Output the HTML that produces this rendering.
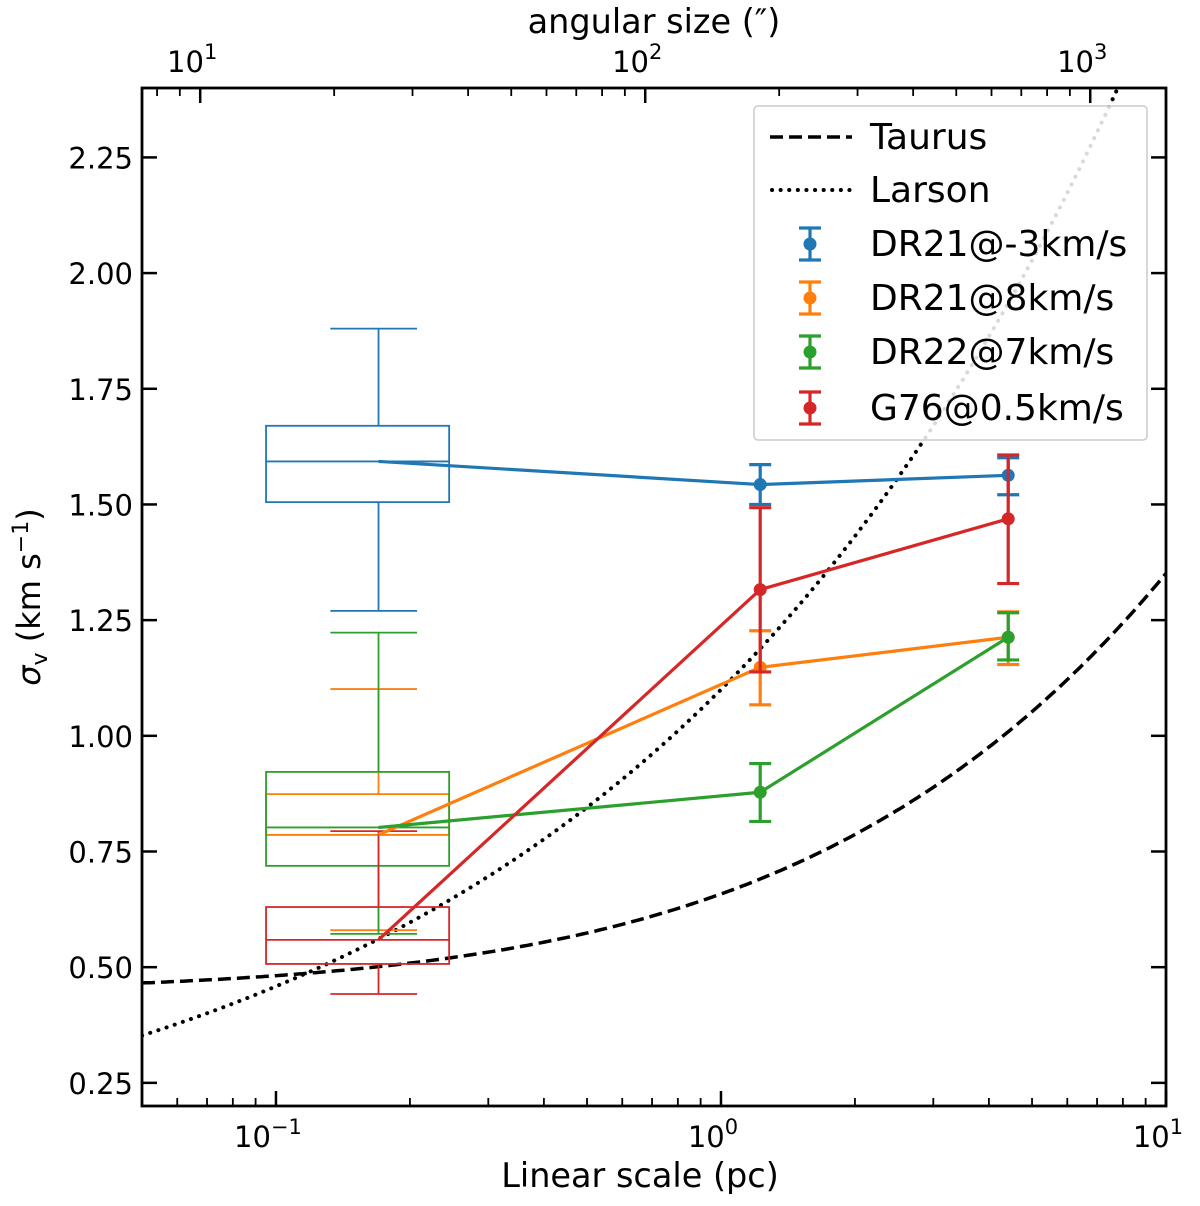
<!DOCTYPE html>
<html><head><meta charset="utf-8"><style>
body{margin:0;background:#fff}
svg text{font-family:"DejaVu Sans","Liberation Sans",sans-serif;fill:#000}
</style></head><body>
<svg id="chart" width="1200" height="1201" xmlns="http://www.w3.org/2000/svg"></svg>
<script>
const xTicks=[0.1,1,10];
const xTickLabels=["10","10","10"];
const xTickExps=["−1","0","1"];
const topTicks=[10,100,1000];
const topTickExps=["1","2","3"];
const yTicks=[0.25,0.5,0.75,1.0,1.25,1.5,1.75,2.0,2.25];
const yTickLabels=["0.25","0.50","0.75","1.00","1.25","1.50","1.75","2.00","2.25"];
const seriesNames=["DR21@-3km/s","DR21@8km/s","DR22@7km/s","G76@0.5km/s"];
const seriesColors=["#1f77b4","#ff7f0e","#2ca02c","#d62728"];
const scales=[0.17,1.225,4.42];
const blueVals=[1.593,1.543,1.563];
const blueLo=[null,1.500,1.521];
const blueHi=[null,1.586,1.601];
const orangeVals=[0.786,1.148,1.213];
const orangeLo=[null,1.067,1.154];
const orangeHi=[null,1.227,1.268];
const greenVals=[0.802,0.878,1.213];
const greenLo=[null,0.815,1.164];
const greenHi=[null,0.940,1.266];
const redVals=[0.559,1.316,1.469];
const redLo=[null,1.138,1.329];
const redHi=[null,1.493,1.607];
// box stats: [whisLo, q1, median, q3, whisHi]
const blueBox=[1.27,1.505,1.593,1.67,1.88];
const orangeBox=[0.580,0.786,0.786,0.874,1.101];
const greenBox=[0.572,0.719,0.802,0.922,1.223];
const redBox=[0.442,0.507,0.559,0.630,0.794];
const angPerPc=148;

const svg=document.getElementById('chart');
const NS='http://www.w3.org/2000/svg';
const L=142,R=1166,T=88,B=1106;
const xmin=0.05,xmax=10,ymin=0.2,ymax=2.4;
const X=v=>L+(Math.log10(v)-Math.log10(xmin))/(Math.log10(xmax)-Math.log10(xmin))*(R-L);
const Y=v=>B-(v-ymin)/(ymax-ymin)*(B-T);
function el(tag,attrs,parent){const e=document.createElementNS(NS,tag);for(const k in attrs)e.setAttribute(k,attrs[k]);(parent||svg).appendChild(e);return e;}

const clip=el('clipPath',{id:'pc'});el('rect',{x:L,y:T,width:R-L,height:B-T},clip);
const plot=el('g',{'clip-path':'url(#pc)'});



let dT='',dL='';
for(let i=0;i<=300;i++){const lx=Math.log10(xmin)+i/300*(Math.log10(xmax)-Math.log10(xmin));const v=Math.pow(10,lx);
const t=Math.sqrt(0.445*0.445+Math.pow(0.485*Math.pow(v,0.42),2));const la=1.1*Math.pow(v,0.38);
dT+=(i?'L':'M')+X(v).toFixed(1)+','+Y(t).toFixed(1);dL+=(i?'L':'M')+X(v).toFixed(1)+','+Y(la).toFixed(1);}
const tp=el('path',{d:dT,fill:'none',stroke:'#000','stroke-width':3.5,'stroke-dasharray':'13 6'},plot);

const lp=el('path',{d:dL,fill:'none',stroke:'#000','stroke-width':4,'stroke-dasharray':'0.1 8.5','stroke-linecap':'round'},plot);


const boxes=[blueBox,orangeBox,greenBox,redBox];
const bx0=X(scales[0]-0.075),bx1=X(scales[0]+0.075),cx0=X(scales[0]-0.0375),cx1=X(scales[0]+0.0375),bc=X(scales[0]);
boxes.forEach((bs,i)=>{const g=el('g',{stroke:seriesColors[i],'stroke-width':1.8,fill:'none'},plot);


el('rect',{x:bx0,y:Y(bs[3]),width:bx1-bx0,height:Y(bs[1])-Y(bs[3])},g);
el('line',{x1:bx0,x2:bx1,y1:Y(bs[2]),y2:Y(bs[2])},g);
el('line',{x1:bc,x2:bc,y1:Y(bs[3]),y2:Y(bs[4])},g);
el('line',{x1:bc,x2:bc,y1:Y(bs[1]),y2:Y(bs[0])},g);
el('line',{x1:cx0,x2:cx1,y1:Y(bs[4]),y2:Y(bs[4])},g);
el('line',{x1:cx0,x2:cx1,y1:Y(bs[0]),y2:Y(bs[0])},g);});

const vals=[blueVals,orangeVals,greenVals,redVals],los=[blueLo,orangeLo,greenLo,redLo],his=[blueHi,orangeHi,greenHi,redHi];
vals.forEach((vs,i)=>{const g=el('g',{},plot);


el('polyline',{points:vs.map((v,j)=>X(scales[j])+','+Y(v)).join(' '),fill:'none',stroke:seriesColors[i],'stroke-width':3.2},g);
vs.forEach((v,j)=>{if(los[i][j]!=null){const x=X(scales[j]);
el('line',{x1:x,x2:x,y1:Y(los[i][j]),y2:Y(his[i][j]),stroke:seriesColors[i],'stroke-width':3.2},g);
el('line',{x1:x-11,x2:x+11,y1:Y(los[i][j]),y2:Y(los[i][j]),stroke:seriesColors[i],'stroke-width':3.2},g);
el('line',{x1:x-11,x2:x+11,y1:Y(his[i][j]),y2:Y(his[i][j]),stroke:seriesColors[i],'stroke-width':3.2},g);
const c=el('circle',{cx:x,cy:Y(v),r:6.5,fill:seriesColors[i]},g);
}});});

const fr=el('rect',{x:L,y:T,width:R-L,height:B-T,fill:'none',stroke:'#000','stroke-width':2.8});


const yax=el('g',{});
yTicks.forEach((v,i)=>{const y=Y(v);
el('line',{x1:L,x2:L+15,y1:y,y2:y,stroke:'#000','stroke-width':2.5},yax);
el('line',{x1:R-15,x2:R,y1:y,y2:y,stroke:'#000','stroke-width':2.5},yax);
const t=el('text',{x:L-9,y:y+11,'text-anchor':'end','font-size':29},yax);t.textContent=yTickLabels[i];});
const yl=el('text',{x:0,y:0,'text-anchor':'middle','font-size':32,transform:'translate(40,597) rotate(-90)'});

yl.innerHTML='<tspan font-style="italic">σ</tspan><tspan font-size="22" dy="7">v</tspan><tspan dy="-7"> (km s</tspan><tspan font-size="22" dy="-12">−1</tspan><tspan dy="12">)</tspan>';

const xax=el('g',{});
for(let d=-2;d<=1;d++)for(let m=1;m<10;m++){const v=m*Math.pow(10,d);if(v<xmin||v>xmax)continue;const x=X(v);const len=m==1?15:8;
el('line',{x1:x,x2:x,y1:B,y2:B-len,stroke:'#000','stroke-width':m==1?2.5:1.8},xax);}
xTicks.forEach((v,i)=>{const t=el('text',{x:X(v)-8,y:1147,'text-anchor':'middle','font-size':29},xax);
t.innerHTML=xTickLabels[i]+'<tspan font-size="21" dy="-13">'+xTickExps[i]+'</tspan>';});
const xl=el('text',{x:640,y:1187,'text-anchor':'middle','font-size':33.5});xl.textContent='Linear scale (pc)';


const tax=el('g',{});
const XA=a=>X(a/angPerPc);
for(let d=0;d<=3;d++)for(let m=1;m<10;m++){const a=m*Math.pow(10,d);const x=XA(a);if(x<L||x>R)continue;const len=m==1?15:8;
el('line',{x1:x,x2:x,y1:T,y2:T+len,stroke:'#000','stroke-width':m==1?2.5:1.8},tax);}
topTicks.forEach((a,i)=>{const t=el('text',{x:XA(a)-8,y:72,'text-anchor':'middle','font-size':29},tax);
t.innerHTML='10<tspan font-size="21" dy="-13">'+topTickExps[i]+'</tspan>';});
const tl=el('text',{x:654,y:33,'text-anchor':'middle','font-size':33.5});tl.textContent='angular size (″)';


const lg=el('g',{});
el('rect',{x:754,y:106,width:393,height:334,rx:4,fill:'#fff','fill-opacity':0.85,stroke:'#ccc','stroke-width':1.5},lg);
const ly=[137,190,244,298,352,408];
const e1=el('g',{},lg);
el('line',{x1:770,x2:852,y1:ly[0],y2:ly[0],stroke:'#000','stroke-width':3.5,'stroke-dasharray':'13 6'},e1);
let t=el('text',{x:870,y:ly[0]+12,'font-size':36},e1);t.textContent='Taurus';
const e2=el('g',{},lg);
el('line',{x1:772,x2:852,y1:ly[1],y2:ly[1],stroke:'#000','stroke-width':4,'stroke-dasharray':'0.1 8.5','stroke-linecap':'round'},e2);
t=el('text',{x:870,y:ly[1]+12,'font-size':36},e2);t.textContent='Larson';
seriesNames.forEach((n,i)=>{const y=ly[i+2];const g=el('g',{},lg);


el('line',{x1:810,x2:810,y1:y-16,y2:y+16,stroke:seriesColors[i],'stroke-width':3.2},g);
el('line',{x1:799,x2:821,y1:y-16,y2:y-16,stroke:seriesColors[i],'stroke-width':3.2},g);
el('line',{x1:799,x2:821,y1:y+16,y2:y+16,stroke:seriesColors[i],'stroke-width':3.2},g);
el('circle',{cx:810,cy:y,r:6.5,fill:seriesColors[i]},g);
const tt=el('text',{x:870,y:y+12,'font-size':36},g);tt.textContent=n;});
</script>
</body></html>
